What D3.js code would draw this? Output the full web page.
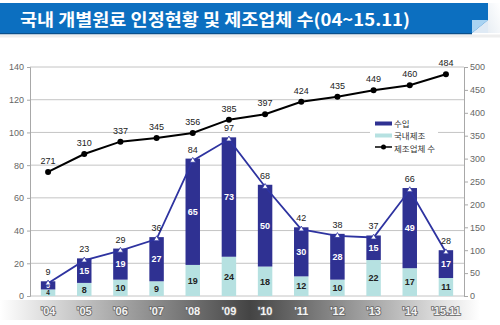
<!DOCTYPE html>
<html><head><meta charset="utf-8">
<script src="https://cdn.jsdelivr.net/npm/d3@7/dist/d3.min.js"></script>
<style>body{margin:0;background:#fff}svg{display:block}</style>
</head><body>
<script>
const categories = ["'04","'05","'06","'07","'08","'09","'10","'11","'12","'13","'14","'15.11"];
const domestic = [4, 8, 10, 9, 19, 24, 18, 12, 10, 22, 17, 11];
const imported = [5, 15, 19, 27, 65, 73, 50, 30, 28, 15, 49, 17];
const totals = [9, 23, 29, 36, 84, 97, 68, 42, 38, 37, 66, 28];
const makers = [271, 310, 337, 345, 356, 385, 397, 424, 435, 449, 460, 484];
const leftTicks = [0, 20, 40, 60, 80, 100, 120, 140];
const rightTicks = [0, 50, 100, 150, 200, 250, 300, 350, 400, 450, 500];
const title = "국내 개별원료 인정현황 및 제조업체 수(04~15.11)";
const legendLabels = ["수입", "국내제조", "제조업체 수"];

const W = 500, H = 325;
const svg = d3.select("body").append("svg").attr("width", W).attr("height", H);
const defs = svg.append("defs");
const g1 = defs.append("linearGradient").attr("id","band").attr("x1","0").attr("x2","1").attr("y1","0").attr("y2","0");
g1.append("stop").attr("offset","0").attr("stop-color","#ffffff");
g1.append("stop").attr("offset","0.5").attr("stop-color","#444444");
g1.append("stop").attr("offset","0.96").attr("stop-color","#ffffff");
const g2 = defs.append("linearGradient").attr("id","corner").attr("x1","0").attr("x2","1").attr("y1","1").attr("y2","0");
g2.append("stop").attr("offset","0").attr("stop-color","#e8eef4");
g2.append("stop").attr("offset","1").attr("stop-color","#ffffff");

// title bar
svg.append("rect").attr("x",0).attr("y",3).attr("width",488).attr("height",30).attr("fill","#0c6fc0");
svg.append("rect").attr("x",488).attr("y",3).attr("width",12).attr("height",30).attr("fill","url(#corner)");
svg.append("polygon").attr("points","472,33 488,20 488,33").attr("fill","#dfeaf5");
svg.append("polygon").attr("points","472,33 472,20 488,20").attr("fill","#a9d3f2");
svg.append("rect").attr("x",0).attr("y",33).attr("width",472).attr("height",1.5).attr("fill","#0a4f8a");
svg.append("rect").attr("x",0).attr("y",34.5).attr("width",500).attr("height",3).attr("fill","#eeeeee");
svg.append("text").attr("x",20).attr("y",26).text(title)
  .attr("fill","#fff").attr("font-family","'Noto Sans CJK KR', sans-serif").attr("font-weight","bold")
  .attr("font-size",17).attr("textLength",390).attr("lengthAdjust","spacingAndGlyphs");

// scales
const x = d3.scaleBand().domain(categories).range([30, 464]).paddingInner(0.6).paddingOuter(0.3);
const yL = d3.scaleLinear().domain([0,140]).range([296,67]);
const yR = d3.scaleLinear().domain([0,500]).range([296,67]);
const font = "'Liberation Sans', Arial, sans-serif";

// gridlines
svg.append("g").selectAll("line").data(leftTicks).join("line")
  .attr("x1",30).attr("x2",464).attr("y1",d=>yL(d)).attr("y2",d=>yL(d))
  .attr("stroke","#c4c4c4").attr("stroke-width",1);

// axes
const axL = svg.append("g").attr("transform","translate(30,0)")
  .call(d3.axisLeft(yL).tickValues(leftTicks).tickSize(3).tickPadding(3));
const axR = svg.append("g").attr("transform","translate(464,0)")
  .call(d3.axisRight(yR).tickValues(rightTicks).tickSize(4).tickPadding(2));
[axL, axR].forEach(a => {
  a.select(".domain").attr("stroke","#a8a8a8");
  a.selectAll(".tick line").attr("stroke","#a8a8a8");
  a.selectAll("text").attr("fill","#666").attr("font-size",9).attr("font-family",font);
});

// bottom band
svg.append("rect").attr("x",0).attr("y",300).attr("width",500).attr("height",20).attr("fill","url(#band)");
svg.append("g").selectAll("text").data(categories).join("text")
  .attr("x",d=>x(d)+x.bandwidth()/2).attr("y",315).attr("text-anchor","middle")
  .text(d=>d).attr("font-family",font).attr("font-weight","bold").attr("font-size",11)
  .attr("fill","#f4f4f4").attr("stroke","#666").attr("stroke-width",1.6).attr("paint-order","stroke");

// bars
const bw = x.bandwidth();
svg.append("g").selectAll("rect").data(categories).join("rect")
  .attr("x",d=>x(d)).attr("width",bw)
  .attr("y",(d,i)=>yL(domestic[i])).attr("height",(d,i)=>yL(0)-yL(domestic[i]))
  .attr("fill","#b6e1e1");
svg.append("g").selectAll("rect").data(categories).join("rect")
  .attr("x",d=>x(d)).attr("width",bw)
  .attr("y",(d,i)=>yL(domestic[i]+imported[i])).attr("height",(d,i)=>yL(domestic[i])-yL(domestic[i]+imported[i]))
  .attr("fill","#2f3192");

// inner labels (smaller font where the segment is very short)
const fs = v => (yL(0)-yL(v)) < 10 ? 6.5 : 9;
svg.append("g").selectAll("text").data(categories).join("text")
  .attr("x",d=>x(d)+bw/2).attr("y",(d,i)=>(yL(0)+yL(domestic[i]))/2+fs(domestic[i])*0.36).attr("text-anchor","middle")
  .text((d,i)=>domestic[i]).attr("font-family",font).attr("font-size",(d,i)=>fs(domestic[i])).attr("font-weight","bold").attr("fill","#222");
svg.append("g").selectAll("text").data(categories).join("text")
  .attr("x",d=>x(d)+bw/2).attr("y",(d,i)=>(yL(domestic[i])+yL(domestic[i]+imported[i]))/2+fs(imported[i])*0.36).attr("text-anchor","middle")
  .text((d,i)=>imported[i]).attr("font-family",font).attr("font-size",(d,i)=>fs(imported[i])).attr("font-weight","bold").attr("fill","#fff");

// total line
const cx = d => x(d)+bw/2;
const lineT = d3.line().x((d,i)=>cx(categories[i])).y(d=>yL(d)+2);
svg.append("path").datum(totals).attr("d",lineT).attr("fill","none").attr("stroke","#2e33a0").attr("stroke-width",1.8);
svg.append("g").selectAll("path").data(totals).join("path")
  .attr("transform",(d,i)=>`translate(${cx(categories[i])},${yL(d)+2})`)
  .attr("d",d3.symbol(d3.symbolTriangle, 14)).attr("fill","#fff").attr("stroke","#2e33a0").attr("stroke-width",0.8);
svg.append("g").selectAll("text").data(totals).join("text")
  .attr("x",(d,i)=>cx(categories[i])).attr("y",d=>yL(d)-6).attr("text-anchor","middle")
  .text(d=>d).attr("font-family",font).attr("font-size",9).attr("fill","#222");

// makers line
const lineM = d3.line().x((d,i)=>cx(categories[i])).y(d=>yR(d));
svg.append("path").datum(makers).attr("d",lineM).attr("fill","none").attr("stroke","#000").attr("stroke-width",2);
svg.append("g").selectAll("circle").data(makers).join("circle")
  .attr("cx",(d,i)=>cx(categories[i])).attr("cy",d=>yR(d)).attr("r",3).attr("fill","#000");
svg.append("g").selectAll("text").data(makers).join("text")
  .attr("x",(d,i)=>cx(categories[i])).attr("y",d=>yR(d)-8).attr("text-anchor","middle")
  .text(d=>d).attr("font-family",font).attr("font-size",9).attr("fill","#222");

// legend
const lg = svg.append("g");
lg.append("rect").attr("x",370).attr("y",114).attr("width",68).attr("height",42).attr("fill","#fff");
lg.append("rect").attr("x",375).attr("y",121.5).attr("width",17).attr("height",4).attr("fill","#2f3192");
lg.append("rect").attr("x",375).attr("y",133.5).attr("width",17).attr("height",4).attr("fill","#b6e1e1");
lg.append("line").attr("x1",375).attr("x2",392).attr("y1",147).attr("y2",147).attr("stroke","#000").attr("stroke-width",1.5);
lg.append("circle").attr("cx",383.5).attr("cy",147).attr("r",2.5).attr("fill","#000");
lg.selectAll("text").data(legendLabels).join("text")
  .attr("x",394).attr("y",(d,i)=>126.5+i*12.5).text(d=>d)
  .attr("font-family","'Noto Sans CJK KR', sans-serif").attr("font-size",8.5).attr("fill","#333");
</script>
</body></html>
